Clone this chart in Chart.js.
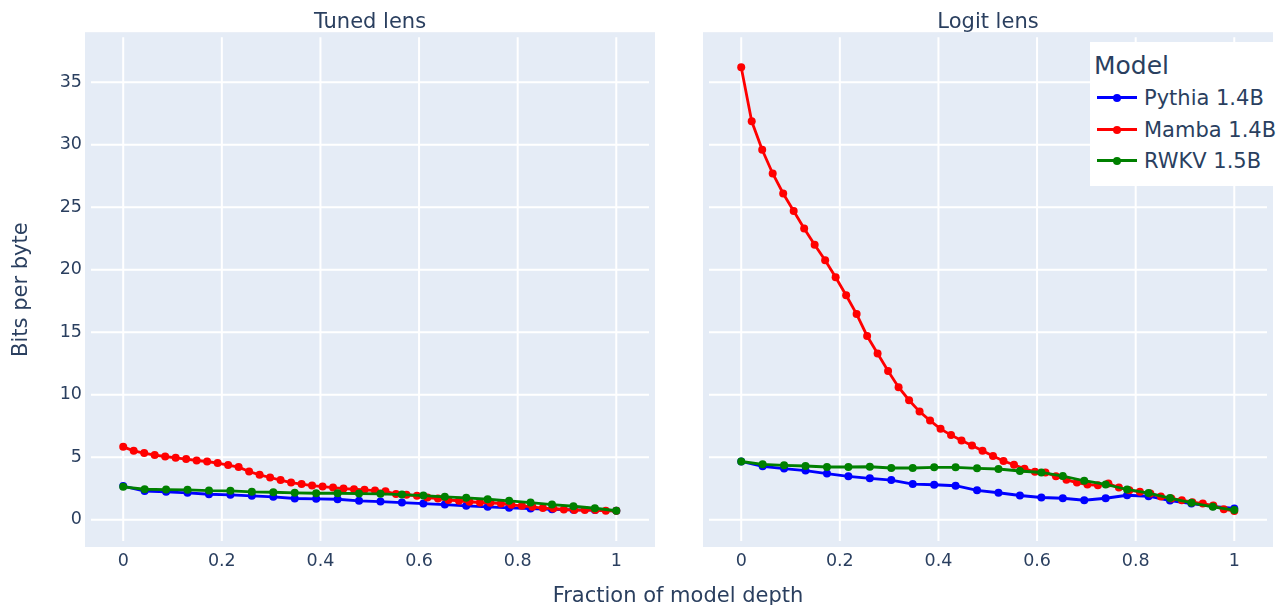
<!DOCTYPE html>
<html>
<head>
<meta charset="utf-8">
<script src="https://cdn.jsdelivr.net/npm/chart.js@4.4.1/dist/chart.umd.min.js"></script>
<style>
  body { margin: 0; background: #fff; overflow: hidden; font-family: "DejaVu Sans", sans-serif; color: #2a3f5f; }
  #wrap { position: relative; width: 1281px; height: 605px; overflow: hidden; }
  canvas { position: absolute; top: 0; }
  #tuned { left: 0; }
  #logit { left: 680px; }
  #xtitle { position: absolute; left: 478px; width: 400px; top: 583px; text-align: center; font-size: 21px; line-height: 24px; white-space: nowrap; }
  #legend { position: absolute; left: 1090px; top: 42px; width: 191px; height: 144px; background: #fff; }
  #legend .ttl { position: absolute; left: 4px; top: 9px; font-size: 25px; line-height: 30px; white-space: nowrap; }
  #legend .row { position: absolute; left: 0; height: 32px; width: 191px; font-size: 21px; line-height: 32px; white-space: nowrap; }
  #legend .ln { position: absolute; left: 7px; width: 40px; top: 14px; height: 3px; }
  #legend .dot { position: absolute; left: 23px; top: 11.5px; width: 8px; height: 8px; border-radius: 50%; }
  #legend .lbl { position: absolute; left: 54px; top: 0; }
</style>
</head>
<body>
<div id="wrap">
  <canvas id="tuned" width="680" height="605"></canvas>
  <canvas id="logit" width="601" height="605"></canvas>
  <div id="xtitle">Fraction of model depth</div>
  <div id="legend"><div class="ttl">Model</div></div>
</div>
<script>
const fontFamily = '"DejaVu Sans", sans-serif'
const ink = '#2a3f5f'

const models = ['Pythia 1.4B', 'Mamba 1.4B', 'RWKV 1.5B']
const colors = ['#0000ff', '#ff0000', '#008000']
const xTicks = [0, 0.2, 0.4, 0.6, 0.8, 1]
const yTicks = [0, 5, 10, 15, 20, 25, 30, 35]

// tuned lens, one value per layer (x = layer / last layer)
const tunedPythia = [2.69, 2.29, 2.23, 2.15, 2.04, 1.99, 1.91, 1.83, 1.70, 1.67, 1.64, 1.51,
  1.45, 1.37, 1.29, 1.21, 1.11, 1.03, 0.95, 0.90, 0.84, 0.79, 0.77, 0.72]
const tunedMamba = [5.83, 5.51, 5.33, 5.17, 5.06, 4.95, 4.85, 4.74, 4.66, 4.53, 4.37, 4.21,
  3.86, 3.59, 3.38, 3.17, 2.97, 2.85, 2.73, 2.65, 2.57, 2.49, 2.44, 2.39,
  2.33, 2.27, 2.06, 2.00, 1.92, 1.78, 1.70, 1.57, 1.52, 1.44, 1.38, 1.36,
  1.30, 1.19, 1.11, 1.03, 0.93, 0.90, 0.82, 0.77, 0.77, 0.77, 0.72, 0.72]
const tunedRwkv = [2.63, 2.44, 2.41, 2.39, 2.33, 2.31, 2.23, 2.20, 2.15, 2.12, 2.12, 2.09,
  2.07, 2.01, 1.93, 1.83, 1.75, 1.64, 1.51, 1.37, 1.21, 1.08, 0.92, 0.72]

// logit lens
const logitPythia = [4.66, 4.27, 4.09, 3.93, 3.69, 3.47, 3.31, 3.17, 2.85, 2.80, 2.72, 2.35,
  2.16, 1.94, 1.78, 1.72, 1.56, 1.72, 1.96, 1.88, 1.53, 1.29, 1.07, 0.90]
const logitMamba = [36.2, 31.87, 29.6, 27.7, 26.1, 24.7, 23.3, 22.0, 20.76, 19.4, 17.96, 16.45,
  14.7, 13.3, 11.9, 10.6, 9.56, 8.65, 7.93, 7.27, 6.77, 6.34, 5.94, 5.51,
  5.10, 4.70, 4.40, 4.07, 3.83, 3.77, 3.48, 3.19, 2.97, 2.81, 2.76, 2.89,
  2.57, 2.36, 2.23, 2.09, 1.85, 1.69, 1.56, 1.40, 1.29, 1.13, 0.84, 0.70]
const logitRwkv = [4.66, 4.43, 4.35, 4.30, 4.22, 4.22, 4.24, 4.14, 4.14, 4.19, 4.19, 4.11,
  4.06, 3.90, 3.78, 3.49, 3.12, 2.82, 2.42, 2.13, 1.73, 1.35, 1.03, 0.77]

const xMin = -0.0775, xMax = 1.0785
const yMin = -2.18, yMax = 39.0

// plotly-ish background and gridlines that stop short of the edges
const plotBackground = {
  id: 'plotBackground',
  beforeDraw(chart) {
    const { ctx, chartArea: a, scales } = chart
    ctx.save()
    ctx.fillStyle = '#E5ECF6'
    ctx.fillRect(a.left, a.top, a.right - a.left, a.bottom - a.top)
    ctx.strokeStyle = '#ffffff'
    ctx.lineWidth = 2
    ctx.beginPath()
    xTicks.forEach(v => {
      const px = scales.x.getPixelForValue(v)
      ctx.moveTo(px, a.top + 5)
      ctx.lineTo(px, a.bottom - 6)
    })
    yTicks.forEach(v => {
      const py = scales.y.getPixelForValue(v)
      ctx.moveTo(a.left + 6, py)
      ctx.lineTo(a.right - 6, py)
    })
    ctx.stroke()
    ctx.restore()
  }
}

function series(i, ys) {
  return {
    label: models[i],
    data: ys.map((y, k) => ({ x: k / (ys.length - 1), y })),
    borderColor: colors[i],
    backgroundColor: colors[i],
    pointBackgroundColor: colors[i],
    borderWidth: 2.8,
    pointRadius: 4,
    pointHoverRadius: 4,
    pointBorderWidth: 0,
    order: 3 - i,
  }
}

function panelOptions(title, showY, pad) {
  return {
    responsive: false,
    animation: false,
    devicePixelRatio: 1,
    events: [],
    layout: { padding: pad },
    plugins: {
      legend: { display: false },
      tooltip: { enabled: false },
      title: {
        display: true, text: title, fullSize: false, color: ink,
        font: { family: fontFamily, size: 21, weight: 'normal' },
        padding: { top: 10, bottom: -3 },
      },
    },
    scales: {
      x: {
        type: 'linear', min: xMin, max: xMax,
        grid: { display: false, drawTicks: false, tickLength: 0 }, border: { display: false },
        afterBuildTicks: s => { s.ticks = xTicks.map(v => ({ value: v })) },
        afterFit: s => { s.height = 58 },
        ticks: {
          color: ink, font: { family: fontFamily, size: 17.5 }, padding: 4,
          maxRotation: 0, autoSkip: false, callback: v => String(v),
        },
      },
      y: {
        type: 'linear', min: yMin, max: yMax, display: showY,
        grid: { display: false, drawTicks: false, tickLength: 0 }, border: { display: false },
        afterBuildTicks: s => { s.ticks = yTicks.map(v => ({ value: v })) },
        afterFit: s => { s.width = showY ? 85 : 0 },
        ticks: { color: ink, font: { family: fontFamily, size: 17.5 }, padding: 3, autoSkip: false },
        title: {
          display: true, text: 'Bits per byte', color: ink,
          font: { family: fontFamily, size: 21 }, padding: { top: 9, bottom: 0 },
        },
      },
    },
  }
}

new Chart(document.getElementById('tuned'), {
  type: 'line',
  data: { datasets: [series(0, tunedPythia), series(1, tunedMamba), series(2, tunedRwkv)] },
  options: panelOptions('Tuned lens', true, { left: 0, right: 25, top: 0, bottom: 0 }),
  plugins: [plotBackground],
})

const logitChart = new Chart(document.getElementById('logit'), {
  type: 'line',
  data: { datasets: [series(0, logitPythia), series(1, logitMamba), series(2, logitRwkv)] },
  options: panelOptions('Logit lens', false, { left: 23, right: 8, top: 0, bottom: 0 }),
  plugins: [plotBackground],
})

// html legend built from the datasets
const legend = document.getElementById('legend')
const rowTops = [40, 72, 103]
logitChart.data.datasets.forEach((ds, i) => {
  const row = document.createElement('div')
  row.className = 'row'
  row.style.top = rowTops[i] + 'px'
  row.innerHTML = '<div class="ln" style="background:' + ds.borderColor + '"></div>' +
    '<div class="dot" style="background:' + ds.borderColor + '"></div>' +
    '<div class="lbl">' + ds.label + '</div>'
  legend.appendChild(row)
})
</script>
</body>
</html>
